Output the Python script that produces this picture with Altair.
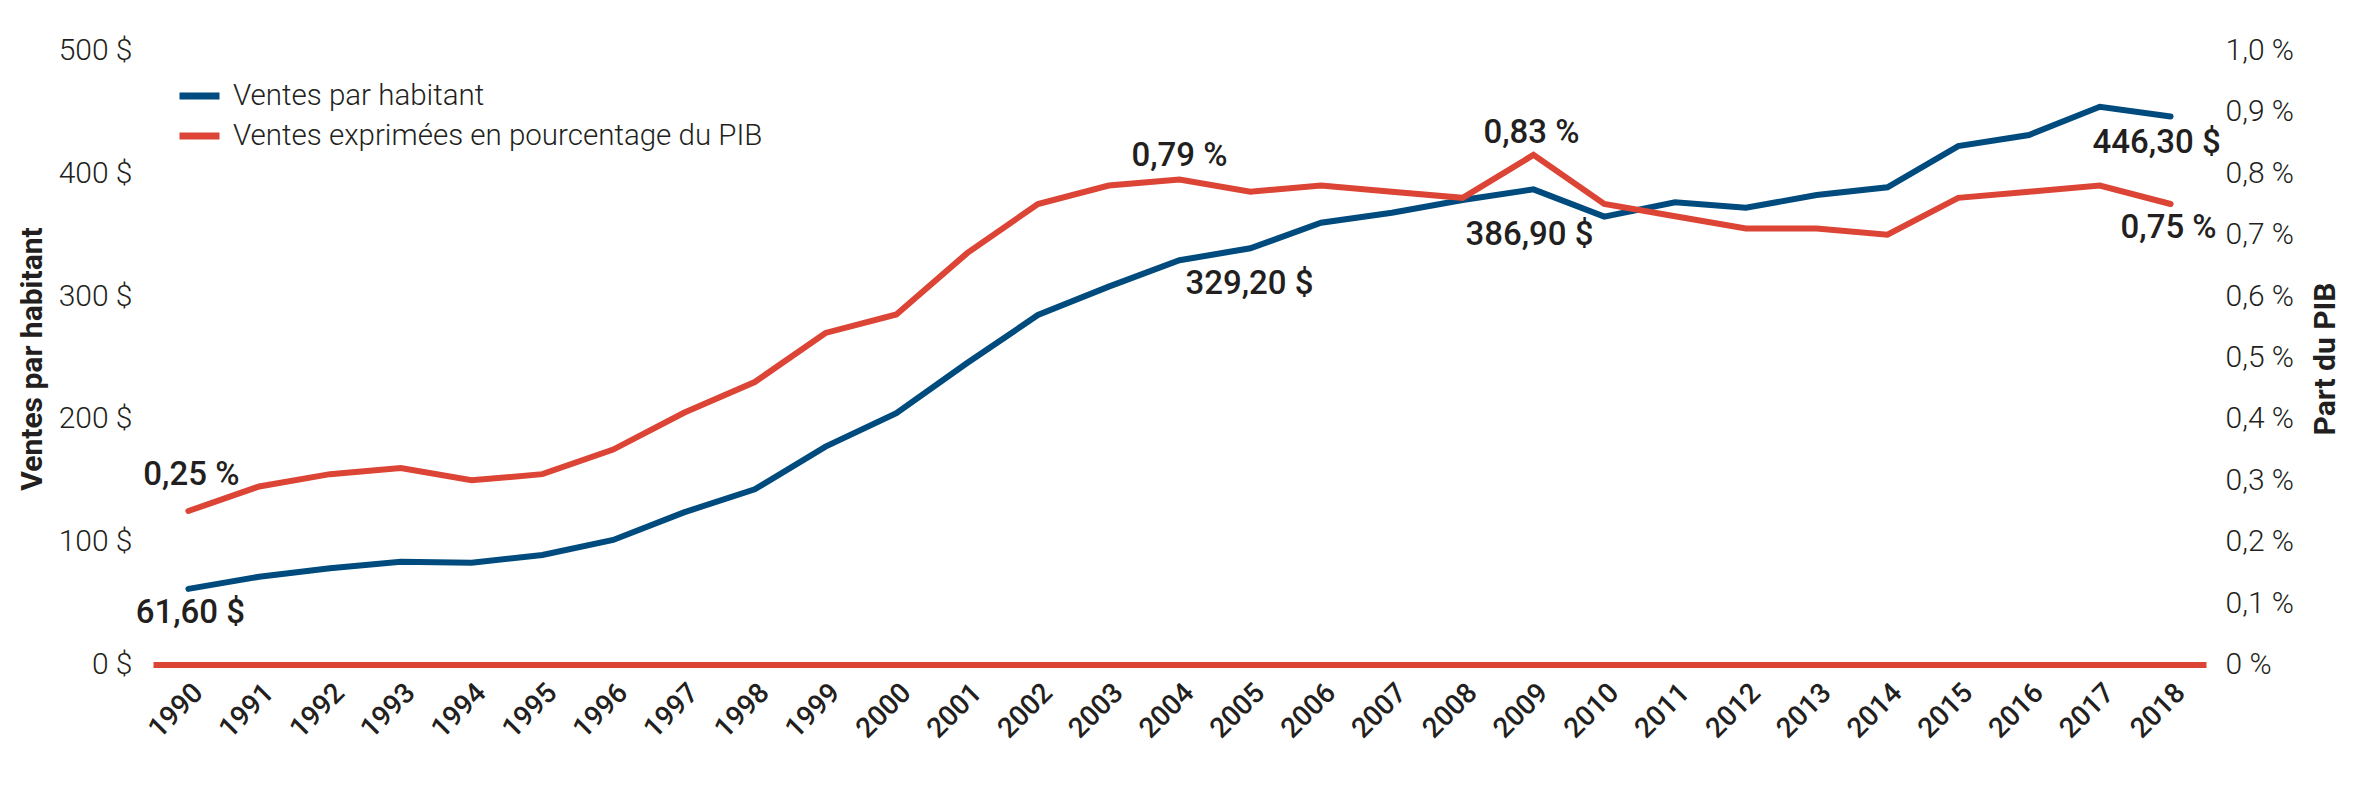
import altair as alt
import pandas as pd

years = list(range(1990, 2019))
per_capita = [61.6, 71.5, 78.3, 83.7, 82.9, 89.2, 101.4, 123.9, 142.7, 177.4,
              204.6, 245.5, 284.6, 307.7, 329.2, 338.9, 359.8, 367.9, 378.3, 386.9,
              364.7, 376.4, 372.0, 382.3, 388.6, 422.2, 431.2, 454.2, 446.3]
pct_gdp = [0.25, 0.29, 0.31, 0.32, 0.30, 0.31, 0.35, 0.41, 0.46, 0.54,
           0.57, 0.67, 0.75, 0.78, 0.79, 0.77, 0.78, 0.77, 0.76, 0.83,
           0.75, 0.73, 0.71, 0.71, 0.70, 0.76, 0.77, 0.78, 0.75]

series_names = ["Ventes par habitant", "Ventes exprimées en pourcentage du PIB"]
left_title = "Ventes par habitant"
right_title = "Part du PIB"
left_ticks = [0, 100, 200, 300, 400, 500]
right_ticks = [0, 0.1, 0.2, 0.3, 0.4, 0.5, 0.6, 0.7, 0.8, 0.9, 1.0]

# annotations: (year, text)
pc_labels = [(1990, "61,60 $"), (2004, "329,20 $"), (2009, "386,90 $"), (2018, "446,30 $")]
pct_labels = [(1990, "0,25 %"), (2004, "0,79 %"), (2009, "0,83 %"), (2018, "0,75 %")]

BLUE = "#004b7d"
RED = "#dc4435"
FONT = "Roboto"
TXT = "#231f20"

df = pd.DataFrame({"year": years, "per_capita": per_capita, "pct": pct_gdp})

color_scale = alt.Scale(domain=series_names, range=[BLUE, RED])

x_enc = alt.X(
    "year:O",
    scale=alt.Scale(type="point", padding=0.5),
    axis=alt.Axis(
        title=None, labelAngle=315, labelFontSize=28, labelFont=FONT,
        labelFontWeight=500, labelColor=TXT, labelPadding=14,
        ticks=False, grid=False, domain=True, domainColor=RED, domainWidth=6,
    ),
)

y_left_scale = alt.Scale(domain=[0, 500], nice=False)
y_right_scale = alt.Scale(domain=[0, 1.0], nice=False)

left_axis = alt.Axis(
    orient="left", values=left_ticks, labelExpr="datum.value + ' $'",
    labelFontSize=30, labelFont=FONT, labelFontWeight=300, labelColor=TXT,
    labelPadding=21, domain=False, ticks=False, grid=False,
    title=left_title, titleFont=FONT, titleFontSize=30, titleFontWeight="bold",
    titleColor=TXT, titleAngle=270, titleX=-121, titleY=308, titleBaseline="middle",
    titleAlign="center",
)
right_axis = alt.Axis(
    orient="right", values=right_ticks,
    labelExpr="datum.value == 0 ? '0 %' : replace(format(datum.value, '.1f'), '.', ',') + ' %'",
    labelFontSize=30, labelFont=FONT, labelFontWeight=300, labelColor=TXT,
    labelPadding=19, domain=False, ticks=False, grid=False,
    title=right_title, titleFont=FONT, titleFontSize=30, titleFontWeight="bold",
    titleColor=TXT, titleAngle=270, titleX=119, titleY=308, titleBaseline="middle",
    titleAlign="center",
)

blue_line = alt.Chart(df).transform_calculate(series=f"'{series_names[0]}'").mark_line(
    strokeWidth=6, strokeCap="round"
).encode(
    x=x_enc,
    y=alt.Y("per_capita:Q", scale=y_left_scale, axis=left_axis),
    color=alt.Color("series:N", scale=color_scale, legend=alt.Legend(
        title=None, orient="none", legendX=23, legendY=22, direction="vertical",
        symbolType="stroke", symbolStrokeWidth=7, symbolSize=1600,
        labelFontSize=29.5, labelFont=FONT, labelFontWeight=300, labelColor=TXT,
        labelLimit=0, rowPadding=2, padding=0, labelOffset=10,
    )),
)

red_line = alt.Chart(df).transform_calculate(series=f"'{series_names[1]}'").mark_line(
    strokeWidth=6, strokeCap="round"
).encode(
    x=x_enc,
    y=alt.Y("pct:Q", scale=y_right_scale, axis=right_axis),
    color=alt.Color("series:N", scale=color_scale),
)


def label_layer(year, text, field, values, scale, axis, dx, dy):
    d = pd.DataFrame({"year": [year], field: [values[years.index(year)]], "label": [text]})
    return alt.Chart(d).mark_text(
        font=FONT, fontSize=33, fontWeight=500, color=TXT,
        align="center", baseline="middle", dx=dx, dy=dy,
    ).encode(
        x=x_enc,
        y=alt.Y(f"{field}:Q", scale=scale, axis=axis),
        text="label:N",
    )


pc_offsets = [(2, 24), (70, 24), (-4, 46), (-14, 27)]
pct_offsets = [(3, -36), (0, -23), (-2, -22), (-2, 24)]

left_layers = [blue_line] + [
    label_layer(y, t, "per_capita", per_capita, y_left_scale, left_axis, dx, dy)
    for (y, t), (dx, dy) in zip(pc_labels, pc_offsets)
]
right_layers = [red_line] + [
    label_layer(y, t, "pct", pct_gdp, y_right_scale, right_axis, dx, dy)
    for (y, t), (dx, dy) in zip(pct_labels, pct_offsets)
]

left = alt.layer(*left_layers)
right = alt.layer(*right_layers)

chart = alt.layer(left, right).resolve_scale(y="independent").properties(
    width=2053, height=614,
    autosize=alt.AutoSizeParams(type="none"),
    padding={"left": 145, "top": 42.5, "right": 140, "bottom": 113.5},
).configure(font=FONT).configure_view(strokeWidth=0, stroke="transparent")

chart.save("out.html", embed_options={"renderer": "svg", "actions": False})
